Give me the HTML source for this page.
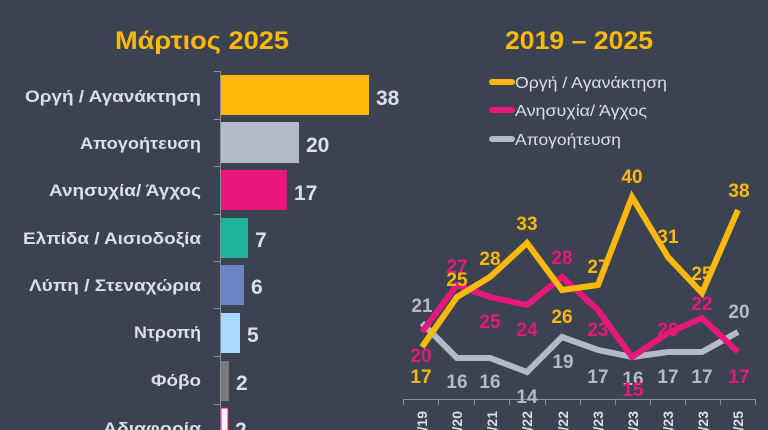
<!DOCTYPE html>
<html><head><meta charset="utf-8"><style>
html,body{margin:0;padding:0;background:#3b4250;}
svg{display:block;font-family:"Liberation Sans","DejaVu Sans",sans-serif;}
</style></head><body>
<svg width="768" height="430" viewBox="0 0 768 430" xmlns="http://www.w3.org/2000/svg">
<rect width="768" height="430" fill="#3b4250"/>
<text x="202" y="49" text-anchor="middle" font-size="25" font-weight="bold" fill="#ffb80c" textLength="174" lengthAdjust="spacingAndGlyphs">Μάρτιος 2025</text>
<text x="579" y="49" text-anchor="middle" font-size="25" font-weight="bold" fill="#ffb80c" textLength="148" lengthAdjust="spacingAndGlyphs">2019 – 2025</text>
<!-- bar axis -->
<line x1="220.5" y1="71" x2="220.5" y2="430" stroke="#8a8f99" stroke-width="1"/>
<g stroke="#8a8f99"><line x1="214" y1="71.5" x2="220" y2="71.5"/><line x1="214" y1="119.5" x2="220" y2="119.5"/><line x1="214" y1="166.5" x2="220" y2="166.5"/><line x1="214" y1="214.5" x2="220" y2="214.5"/><line x1="214" y1="261.5" x2="220" y2="261.5"/><line x1="214" y1="308.5" x2="220" y2="308.5"/><line x1="214" y1="356.5" x2="220" y2="356.5"/><line x1="214" y1="404.5" x2="220" y2="404.5"/></g>
<g font-size="17" font-weight="bold" fill="#dcdfe6" text-anchor="end" lengthAdjust="spacingAndGlyphs">
<text x="201" y="102" textLength="176" lengthAdjust="spacingAndGlyphs">Οργή / Αγανάκτηση</text>
<text x="201" y="149" textLength="121" lengthAdjust="spacingAndGlyphs">Απογοήτευση</text>
<text x="201" y="196" textLength="152" lengthAdjust="spacingAndGlyphs">Ανησυχία/ Άγχος</text>
<text x="201" y="244" textLength="178" lengthAdjust="spacingAndGlyphs">Ελπίδα / Αισιοδοξία</text>
<text x="201" y="291" textLength="172" lengthAdjust="spacingAndGlyphs">Λύπη / Στεναχώρια</text>
<text x="201" y="338" textLength="67" lengthAdjust="spacingAndGlyphs">Ντροπή</text>
<text x="201" y="386" textLength="50" lengthAdjust="spacingAndGlyphs">Φόβο</text>
<text x="201" y="434" textLength="98" lengthAdjust="spacingAndGlyphs">Αδιαφορία</text>
</g>
<rect x="221" y="75" width="148" height="40" fill="#ffb80c"/>
<rect x="221" y="122" width="78" height="41" fill="#b4bac8"/>
<rect x="221" y="170" width="66" height="40" fill="#e8177c"/>
<rect x="221" y="218" width="27" height="40" fill="#1fb39b"/>
<rect x="221" y="265" width="23" height="40" fill="#6c84c4"/>
<rect x="221" y="313" width="19" height="40" fill="#a8d8ff"/>
<rect x="221" y="361" width="8" height="40" fill="#7a7a7a"/>
<rect x="221" y="408" width="7" height="30" fill="#f5f5f5" stroke="#e8177c" stroke-width="1"/>
<g font-size="21" font-weight="bold" fill="#dcdfe6">
<text x="376" y="105">38</text>
<text x="306" y="152">20</text>
<text x="294" y="200">17</text>
<text x="255" y="247">7</text>
<text x="251" y="294">6</text>
<text x="247" y="342">5</text>
<text x="236" y="390">2</text>
<text x="235" y="437">2</text>
</g>
<!-- legend -->
<g stroke-width="6" stroke-linecap="round">
<line x1="492" y1="82" x2="512" y2="82" stroke="#ffb80c"/>
<line x1="492" y1="110" x2="512" y2="110" stroke="#e8177c"/>
<line x1="492" y1="139" x2="512" y2="139" stroke="#b4bac8"/>
</g>
<g font-size="16" fill="#dcdfe6">
<text x="515" y="88" textLength="152" lengthAdjust="spacingAndGlyphs">Οργή / Αγανάκτηση</text>
<text x="515" y="116" textLength="132" lengthAdjust="spacingAndGlyphs">Ανησυχία/ Άγχος</text>
<text x="515" y="145" textLength="106" lengthAdjust="spacingAndGlyphs">Απογοήτευση</text>
</g>
<!-- line chart axis -->
<line x1="403" y1="399.5" x2="755" y2="399.5" stroke="#8a8f99"/>
<g stroke="#8a8f99"><line x1="403.5" y1="399" x2="403.5" y2="405"/><line x1="438.5" y1="399" x2="438.5" y2="405"/><line x1="474.5" y1="399" x2="474.5" y2="405"/><line x1="509.5" y1="399" x2="509.5" y2="405"/><line x1="545.5" y1="399" x2="545.5" y2="405"/><line x1="580.5" y1="399" x2="580.5" y2="405"/><line x1="615.5" y1="399" x2="615.5" y2="405"/><line x1="650.5" y1="399" x2="650.5" y2="405"/><line x1="685.5" y1="399" x2="685.5" y2="405"/><line x1="720.5" y1="399" x2="720.5" y2="405"/><line x1="755.5" y1="399" x2="755.5" y2="405"/></g>
<g font-size="14" font-weight="bold" fill="#dcdfe6" text-anchor="end">
<text transform="translate(427,411) rotate(-90)">03/19</text>
<text transform="translate(462,411) rotate(-90)">03/20</text>
<text transform="translate(497,411) rotate(-90)">03/21</text>
<text transform="translate(532,411) rotate(-90)">03/22</text>
<text transform="translate(568,411) rotate(-90)">11/22</text>
<text transform="translate(603,411) rotate(-90)">03/23</text>
<text transform="translate(638,411) rotate(-90)">05/23</text>
<text transform="translate(673,411) rotate(-90)">07/23</text>
<text transform="translate(708,411) rotate(-90)">11/23</text>
<text transform="translate(743,411) rotate(-90)">03/25</text>
</g>
<g fill="none" stroke-width="6" stroke-linejoin="miter">
<polyline stroke="#b4bac8" points="422,323 457,358 490,358 527,372 562,337 598,350 632,357 668,352 702,352 738,332"/>
<polyline stroke="#e8177c" points="422,332 457,285 490,297 527,305 562,277 598,310 632,357 668,333 702,318 738,352"/>
<polyline stroke="#ffb80c" points="422,347 457,297 490,277 527,243 562,290 598,285 632,197 668,257 702,293 738,210"/>
</g>
<g font-size="19" font-weight="bold" text-anchor="middle">
<g fill="#b4bac8">
<text x="422" y="312">21</text><text x="457" y="388">16</text><text x="490" y="388">16</text><text x="527" y="403">14</text><text x="563" y="368">19</text><text x="598" y="383">17</text><text x="633" y="385">16</text><text x="668" y="383">17</text><text x="702" y="383">17</text><text x="739" y="318">20</text>
</g>
<g fill="#e8177c">
<text x="421" y="362">20</text><text x="457" y="273">27</text><text x="490" y="328">25</text><text x="527" y="336">24</text><text x="562" y="264">28</text><text x="598" y="336">23</text><text x="633" y="396">15</text><text x="668" y="336">20</text><text x="702" y="310">22</text><text x="739" y="383">17</text>
</g>
<g fill="#ffb80c">
<text x="421" y="383">17</text><text x="457" y="286">25</text><text x="490" y="265">28</text><text x="527" y="230">33</text><text x="562" y="323">26</text><text x="598" y="273">27</text><text x="632" y="183">40</text><text x="668" y="243">31</text><text x="702" y="280">25</text><text x="739" y="197">38</text>
</g>
</g>
</svg>
</body></html>
